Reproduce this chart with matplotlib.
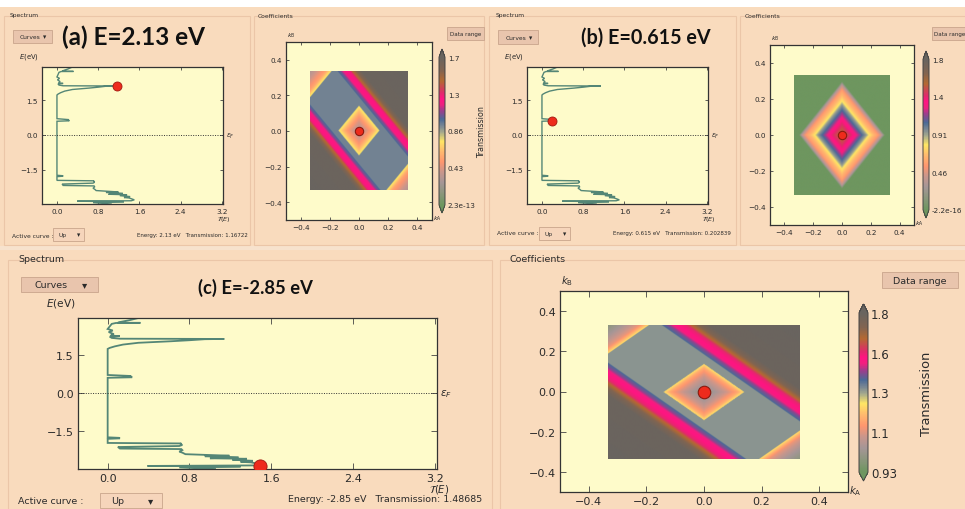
import numpy as np
import matplotlib
matplotlib.use("Agg")
import matplotlib.pyplot as plt
from matplotlib.colors import LinearSegmentedColormap
from matplotlib.patches import Rectangle

# ---------------- data ----------------
# transmission spectrum T(E) (same curve in every panel)
E_CURVE = [2.93, 2.85, 2.78, 2.745, 2.74, 2.735, 2.70, 2.60, 2.50, 2.44, 2.38, 2.30, 2.24,
           2.22, 2.21, 2.20, 2.15, 2.12, 2.11, 2.10, 2.06, 2.02, 1.96, 1.89, 1.82, 1.76, 1.72,
           0.70, 0.66, 0.64, 0.61, 0.59, -1.74, -1.76, -1.78, -1.80, -1.96, -1.98, -2.00,
           -2.04, -2.08, -2.12, -2.18, -2.20, -2.24, -2.30, -2.34, -2.40, -2.46, -2.48, -2.52,
           -2.56, -2.58, -2.62, -2.66, -2.70, -2.72, -2.76, -2.80, -2.84, -2.86, -2.88, -2.92,
           -2.98]
T_CURVE = [0.30, 0.22, 0.13, 0.10, 0.32, 0.08, 0.04, 0.02, 0.00, 0.05, 0.01, 0.06, 0.03,
           0.12, 0.05, 0.02, 0.04, 0.12, 1.14, 0.95, 0.80, 0.62, 0.30, 0.15, 0.07, 0.02, 0.00,
           0.00, 0.23, 0.22, 0.24, 0.00, 0.00, 0.11, 0.12, 0.00, 0.00, 0.72, 0.71,
           0.73, 0.70, 0.10, 0.12, 0.72, 0.73, 0.70, 0.73, 0.76, 1.19, 0.95, 1.28,
           1.00, 1.36, 1.22, 1.42, 1.30, 1.40, 1.45, 1.50, 1.44, 0.39, 1.30, 0.70,
           1.05]
T_TICKS = [0.0, 0.8, 1.6, 2.4, 3.2]
E_TICKS = [-1.5, 0.0, 1.5]
K_TICKS = [-0.4, -0.2, 0.0, 0.2, 0.4]

# selected points (energy, transmission)
SEL_E = {"a": 2.13, "b": 0.615, "c": -2.85}
SEL_T = {"a": 1.16722, "b": 0.202839, "c": 1.48685}
TITLES = {"a": "(a) E=2.13 eV", "b": "(b) E=0.615 eV", "c": "(c) E=-2.85 eV"}
STATUS = {"a": "Energy: 2.13 eV   Transmission: 1.16722",
          "b": "Energy: 0.615 eV   Transmission: 0.202839",
          "c": "Energy: -2.85 eV   Transmission: 1.48685"}

# colour-bar ranges and labels
CB_MIN = {"a": 0.0, "b": 0.0, "c": 0.93}
CB_MAX = {"a": 1.72, "b": 1.82, "c": 1.80}
CB_LABELS = {"a": ["2.3e-13", "0.43", "0.86", "1.3", "1.7"],
             "b": ["-2.2e-16", "0.46", "0.91", "1.4", "1.8"],
             "c": ["0.93", "1.1", "1.3", "1.6", "1.8"]}

# transmission profiles of the coefficient maps
# (a),(c): inner diamond vs |kA|+|kB|, band vs |kA+kB|, corners vs |kA-kB|
DIAM_R = {"a": [0.0, 0.05, 0.09, 0.12, 0.14], "c": [0.0, 0.05, 0.09, 0.12, 0.14]}
DIAM_T = {"a": [0.30, 0.42, 0.55, 0.68, 0.78], "c": [1.00, 1.08, 1.15, 1.22, 1.30]}
BAND_U = {"a": [0.0, 0.185, 0.19, 0.21, 0.23, 0.27, 0.29, 0.32, 0.35, 0.7],
          "c": [0.0, 0.185, 0.19, 0.21, 0.23, 0.27, 0.29, 0.32, 0.35, 0.7]}
BAND_T = {"a": [0.93, 0.93, 0.99, 1.06, 1.20, 1.26, 1.44, 1.58, 1.70, 1.72],
          "c": [1.38, 1.38, 1.43, 1.47, 1.54, 1.58, 1.66, 1.74, 1.79, 1.80]}
CORN_V = {"a": [0.52, 0.56, 0.62, 0.67], "c": [0.525, 0.56, 0.62, 0.67]}
CORN_T = {"a": [0.78, 0.55, 0.40, 0.30], "c": [1.30, 1.16, 1.06, 1.00]}
DIAM_EDGE = {"a": 0.14, "c": 0.14}
CORN_EDGE = {"a": 0.52, "c": 0.525}
# (b): concentric diamond vs |kA|+|kB|
RING_R = [0.0, 0.04, 0.08, 0.11, 0.14, 0.17, 0.19, 0.22, 0.25, 0.28, 0.30, 0.70]
RING_T = [1.60, 1.45, 1.32, 1.20, 1.05, 0.92, 0.78, 0.65, 0.55, 0.35, 0.0, 0.0]

# ---------------- style ----------------
W, H = 965, 510
BG = "#f9dbbd"
PLOT_BG = "#fefbca"
BTN = "#e9c5ad"
FRAME = "#ebc6a8"
LINE_C = "#548676"
RED = "#ee2b1c"
TXT = "#2a2a2a"

cmap = LinearSegmentedColormap.from_list("trans", [
    (0.00, "#6e965f"), (0.08, "#8c967d"), (0.15, "#a59696"), (0.22, "#c8968c"),
    (0.29, "#ff966e"), (0.36, "#ffb96e"), (0.43, "#ffe664"), (0.49, "#a8ab8c"),
    (0.53, "#7e8a92"), (0.58, "#4b6996"), (0.64, "#a03c8c"), (0.68, "#f0207f"),
    (0.72, "#ff1482"), (0.76, "#e02a6a"), (0.84, "#b46932"), (0.91, "#826450"),
    (1.00, "#69645f")])

fig = plt.figure(figsize=(W / 100, H / 100), dpi=100, facecolor=BG)


def box(l, t, r, b):
    return [l / W, 1 - b / H, (r - l) / W, (b - t) / H]


def ftext(x, y, s, **kw):
    kw.setdefault("color", TXT)
    kw.setdefault("va", "center")
    fig.text(x / W, 1 - y / H, s, **kw)


def rect(l, t, r, b, fc, ec, lw=0.6, z=0):
    fig.patches.append(Rectangle((l / W, 1 - b / H), (r - l) / W, (b - t) / H,
                                 transform=fig.transFigure, facecolor=fc,
                                 edgecolor=ec, lw=lw, zorder=z))


def button(l, t, r, b, label, fs, arrow=True, fc=BTN):
    rect(l, t, r, b, fc, "#c9a58c", 0.6, 1)
    cy = (t + b) / 2
    if arrow:
        ftext(l + (r - l) * 0.18, cy, label, fontsize=fs, family="DejaVu Sans")
        ftext(r - (r - l) * 0.18, cy, "\u25BE", fontsize=fs * 1.1, ha="center",
              family="DejaVu Sans")
    else:
        ftext((l + r) / 2, cy, label, fontsize=fs, ha="center", family="DejaVu Sans")


# top white strip and group frames
rect(0, 0, W, 8, "white", "none", 0, 0)
rect(0, 247, W, 251, "#f7e2cd", "none", 0, 0)
for (l, t, r, b) in [(4, 17, 250, 246), (254, 17, 484, 246), (489, 17, 736, 246),
                     (740, 17, 968, 246), (8, 261, 492, 512), (500, 261, 968, 512)]:
    rect(l, t, r, b, "none", FRAME, 0.8, 0)


def spectrum(key, ax_px, fs, ms, lw, tl, title_px, title_fs, gui):
    ax = fig.add_axes(box(*ax_px))
    ax.set_facecolor(PLOT_BG)
    ax.plot(T_CURVE, E_CURVE, color=LINE_C, lw=lw, solid_joinstyle="miter")
    ax.axhline(0.0, color="#333333", ls=(0, (1, 1.5)), lw=0.7)
    ax.plot([SEL_T[key]], [SEL_E[key]], "o", color=RED, mec="#a01810", mew=0.6, ms=ms,
            zorder=5)
    ax.set_xlim(-0.29, 3.22)
    ax.set_ylim(-2.98, 2.93)
    ax.set_xticks(T_TICKS)
    ax.set_yticks(E_TICKS)
    ax.set_xticklabels([f"{v:.1f}" for v in T_TICKS])
    ax.set_yticklabels([f"{v:.1f}".replace("-", "\u2212") for v in E_TICKS])
    ax.tick_params(direction="in", top=True, right=True, length=tl, width=0.6,
                   labelsize=fs, colors="#444444", labelcolor=TXT, pad=3)
    for s in ax.spines.values():
        s.set_color("#333333")
        s.set_linewidth(0.9)
    l, t, r, b = ax_px
    ftext(title_px[0], title_px[1], TITLES[key], fontsize=title_fs, fontweight="bold",
          family="Lato", color="#111111")
    ftext(l - 23 * gui, t - 11 * gui, "$E(\\mathrm{eV})$", fontsize=fs * 0.95)
    y0 = t + (b - t) * 2.93 / 5.91
    ftext(r + 3, y0, "$\\epsilon_F$", fontsize=fs * 0.95)
    ftext(r - 6 * gui, b + 14 * gui, "$\\mathcal{T}(E)$", fontsize=fs * 0.9)
    return ax


def coeff(key, ax_px, cb_px, fs, ms, tl, cb_fs, show_label, label_x):
    ax = fig.add_axes(box(*ax_px))
    ax.set_facecolor(PLOT_BG)
    k = np.linspace(-1 / 3, 1 / 3, 401)
    KA, KB = np.meshgrid(k, k)
    u = np.abs(KA + KB)
    v = np.abs(KA - KB)
    r = np.maximum(u, v)
    if key == "b":
        Z = np.interp(r, RING_R, RING_T)
    else:
        Z = np.where(r < DIAM_EDGE[key], np.interp(r, DIAM_R[key], DIAM_T[key]),
                     np.where(v > CORN_EDGE[key], np.interp(v, CORN_V[key], CORN_T[key]),
                              np.interp(u, BAND_U[key], BAND_T[key])))
    im = ax.imshow(Z, cmap=cmap, vmin=CB_MIN[key], vmax=CB_MAX[key], origin="lower",
                   extent=[-1 / 3, 1 / 3, -1 / 3, 1 / 3], aspect="auto",
                   interpolation="bilinear")
    ax.plot([0], [0], "o", color=RED, mec="#8a1a10", mew=0.8, ms=ms, zorder=5)
    ax.set_xlim(-0.5, 0.5)
    ax.set_ylim(-0.5, 0.5)
    ax.set_xticks(K_TICKS)
    ax.set_yticks(K_TICKS)
    lab = [f"{v:.1f}".replace("-", "\u2212") for v in K_TICKS]
    ax.set_xticklabels(lab)
    ax.set_yticklabels(lab)
    ax.tick_params(direction="in", top=True, right=True, length=tl, width=0.6,
                   labelsize=fs, colors="#444444", labelcolor=TXT, pad=3)
    for s in ax.spines.values():
        s.set_color("#333333")
        s.set_linewidth(0.9)
    l, t, r, b = ax_px
    ftext(l + 1, t - 7 * (fs / 5.0), "$k_\\mathrm{B}$", fontsize=fs * 0.9)
    ftext(r + 1, b - 2, "$k_\\mathrm{A}$", fontsize=fs * 0.9)
    cax = fig.add_axes(box(*cb_px))
    ticks = list(np.linspace(CB_MIN[key], CB_MAX[key], 5))
    cb = fig.colorbar(im, cax=cax, extend="both", ticks=ticks, extendfrac=0.055)
    cb.ax.set_yticklabels(CB_LABELS[key])
    cb.ax.tick_params(length=0, labelsize=cb_fs, labelcolor=TXT, pad=2)
    cb.outline.set_edgecolor("#444444")
    cb.outline.set_linewidth(0.7)
    if show_label:
        ftext(label_x, (cb_px[1] + cb_px[3]) / 2, "Transmission", fontsize=cb_fs * 1.1,
              rotation=90, ha="center", family="DejaVu Sans")
    return ax


# ---------- (a) ----------
ftext(10, 16, "Spectrum", fontsize=4.3, family="DejaVu Sans")
ftext(258, 16, "Coefficients", fontsize=4.3, family="DejaVu Sans")
button(13, 31, 52, 44, "Curves", 4.3)
spectrum("a", (42, 68, 223, 205), 5.2, 6.5, 1.0, 2.5, (62, 37), 17.5, 1.0)
ftext(12, 236, "Active curve :", fontsize=4.3, family="DejaVu Sans")
button(53, 229, 84, 242, "Up", 4.3, fc="#f6d5bb")
ftext(248, 236, STATUS["a"], fontsize=4.0, ha="right", family="DejaVu Sans")
button(447, 28, 484, 41, "Data range", 4.0, arrow=False)
coeff("a", (286, 43, 432, 221), (439, 50, 445, 214), 5.2, 6, 2.5, 5.2, True, 482)

# ---------- (b) ----------
ftext(496, 16, "Spectrum", fontsize=4.3, family="DejaVu Sans")
ftext(745, 16, "Coefficients", fontsize=4.3, family="DejaVu Sans")
button(498, 31, 538, 45, "Curves", 4.3)
spectrum("b", (527, 68, 708, 205), 5.2, 6.5, 1.0, 2.5, (581, 38), 14.2, 1.0)
ftext(497, 234, "Active curve :", fontsize=4.3, family="DejaVu Sans")
button(539, 228, 570, 241, "Up", 4.3, fc="#f6d5bb")
ftext(731, 234, STATUS["b"], fontsize=4.0, ha="right", family="DejaVu Sans")
button(932, 28, 968, 41, "Data range", 4.0, arrow=False)
coeff("b", (770, 46, 914, 226), (923, 52, 929, 219), 5.2, 6, 2.5, 5.2, False, 0)

# ---------- (c) ----------
ftext(18, 260, "Spectrum", fontsize=6.8, family="DejaVu Sans")
ftext(510, 260, "Coefficients", fontsize=6.8, family="DejaVu Sans")
button(21, 278, 98, 293, "Curves", 6.8)
spectrum("c", (78, 319, 437, 470), 8.0, 9.5, 1.3, 4, (198, 288), 13.2, 1.4)
ftext(18, 502, "Active curve :", fontsize=6.8, family="DejaVu Sans")
button(100, 494, 162, 509, "Up", 6.8, fc="#f6d5bb")
ftext(482, 500, STATUS["c"], fontsize=6.8, ha="right", family="DejaVu Sans")
button(882, 273, 958, 289, "Data range", 6.8, arrow=False)
coeff("c", (560, 292, 848, 493), (859, 305, 868, 482), 8.0, 9, 4, 8.5, True, 927)

fig.savefig("out.png", dpi=100, facecolor=BG)
